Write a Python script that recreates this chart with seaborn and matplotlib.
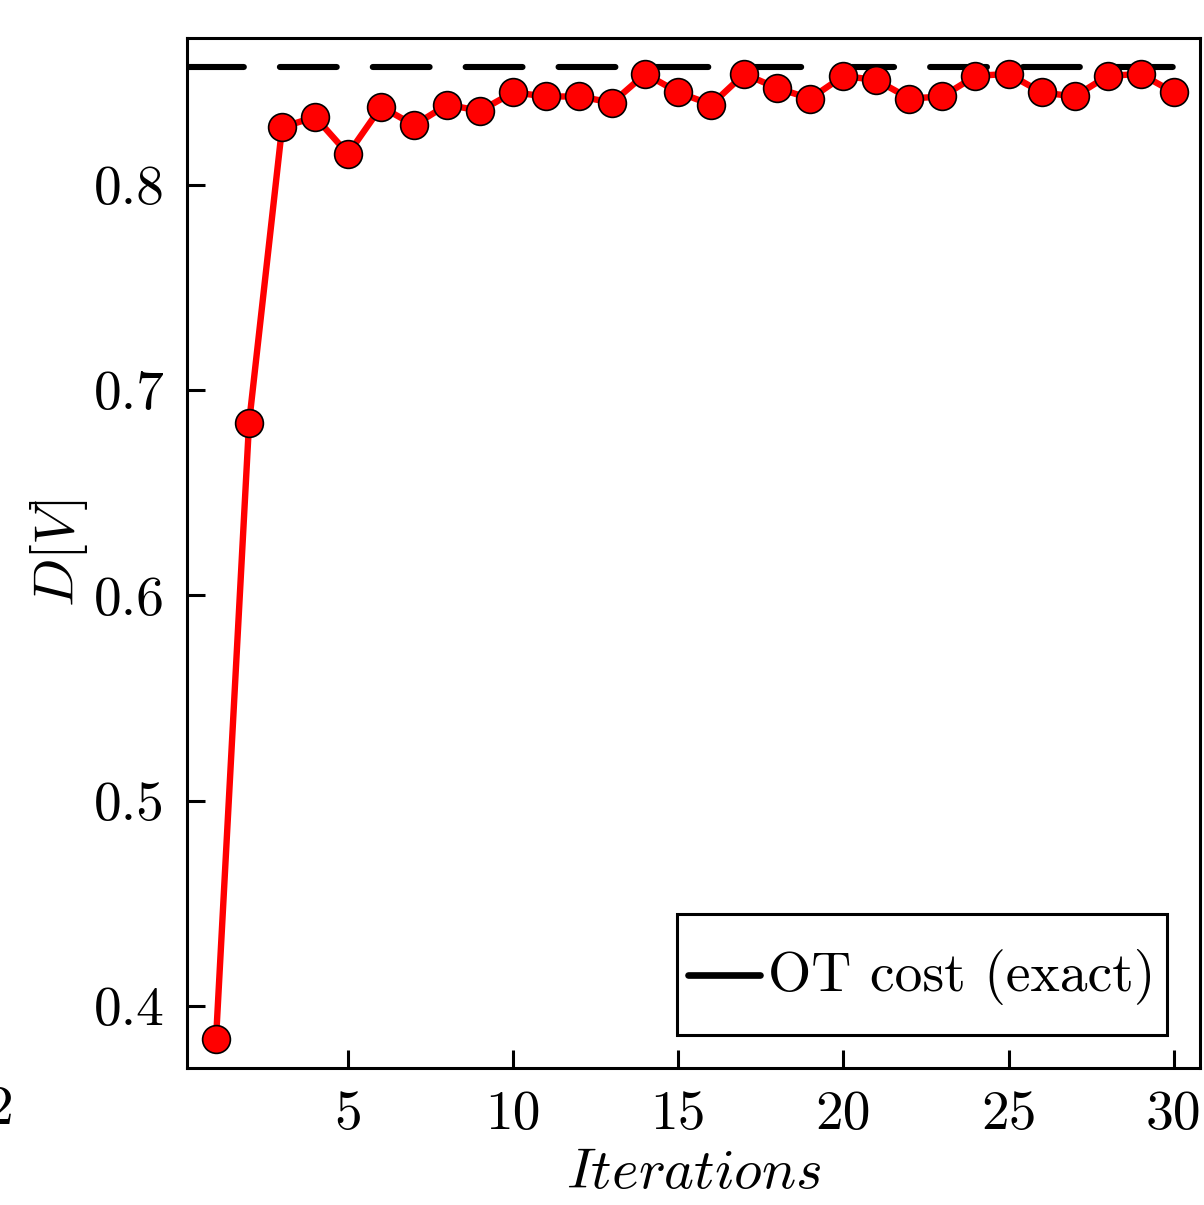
import numpy as np
import pandas as pd
import matplotlib
matplotlib.use("Agg")
import matplotlib.pyplot as plt
from matplotlib.lines import Line2D
from matplotlib.legend_handler import HandlerLine2D
import seaborn as sns

# values
iterations = list(range(1, 31))
dv_values = [0.384, 0.684, 0.828, 0.833, 0.815, 0.838, 0.829, 0.839, 0.836, 0.845,
             0.843, 0.843, 0.840, 0.854, 0.845, 0.839, 0.854, 0.847, 0.842, 0.853,
             0.851, 0.842, 0.843, 0.853, 0.854, 0.845, 0.843, 0.853, 0.854, 0.845]
ot_cost_exact = 0.8574
x_ticks = [5, 10, 15, 20, 25, 30]
y_ticks = [0.4, 0.5, 0.6, 0.7, 0.8]

sns.set_style("white")
plt.rcParams["font.family"] = ["cmr10", "DejaVu Serif"]
plt.rcParams["mathtext.fontset"] = "cm"
plt.rcParams["axes.formatter.use_mathtext"] = True
plt.rcParams["axes.unicode_minus"] = False
for key in ["text.color", "axes.labelcolor", "xtick.color", "ytick.color", "axes.edgecolor"]:
    plt.rcParams[key] = "black"


class LoweredLine(HandlerLine2D):
    # the tall handle box puts the line above the text; move it down a bit
    def create_artists(self, legend, orig_handle, xdescent, ydescent, width,
                       height, fontsize, trans):
        arts = super().create_artists(legend, orig_handle, xdescent, ydescent,
                                      width, height, fontsize, trans)
        for a in arts:
            a.set_ydata(np.asarray(a.get_ydata()) - 6.0)
        return arts


df = pd.DataFrame({"iter": iterations, "dv": dv_values})

fig = plt.figure(figsize=(6.02, 6.025), dpi=200)
ax = fig.add_axes([0.1553, 0.1137, 0.8414, 0.8548])

ax.axhline(ot_cost_exact, color="black", lw=2.2, linestyle=(0, (9.3, 5.9)),
           dash_capstyle="round", zorder=1)
sns.lineplot(data=df, x="iter", y="dv", ax=ax, color="red", lw=2.3,
             marker="o", markersize=10, markerfacecolor="red",
             markeredgecolor="black", markeredgewidth=0.6, zorder=3)

ax.set_xlim(0.12, 30.8)
ax.set_ylim(0.3698, 0.8715)
ax.set_xticks(x_ticks)
ax.set_yticks(y_ticks)
ax.set_xticklabels([str(t) for t in x_ticks])
ax.set_yticklabels([f"{t:.1f}" for t in y_ticks])
ax.tick_params(direction="in", length=6.5, width=1.1, labelsize=20, pad=8,
               top=False, right=False, left=True, bottom=True)
for sp in ax.spines.values():
    sp.set_linewidth(1.1)
    sp.set_color("black")

ax.set_xlabel(r"$Iterations$", fontsize=20.5, labelpad=3)
ax.set_ylabel(r"$D[V]$", fontsize=20.5, labelpad=1.5)

handle = Line2D([], [], color="black", lw=2.4, solid_capstyle="round")
leg = ax.legend([handle], ["OT cost (exact)"], loc="lower right", fontsize=20,
                frameon=True, fancybox=False, framealpha=1, handlelength=1.3,
                handletextpad=0.15, handleheight=2.35, borderpad=0.2,
                borderaxespad=0.6, handler_map={Line2D: LoweredLine()})
leg.get_frame().set_edgecolor("black")
leg.get_frame().set_linewidth(1.1)

# clipped label fragment at the left edge of the original crop
fig.text(-0.012, 1 - 1110 / 1205, "2", fontsize=20, va="center", ha="left")

fig.savefig("out.png", dpi=200)
